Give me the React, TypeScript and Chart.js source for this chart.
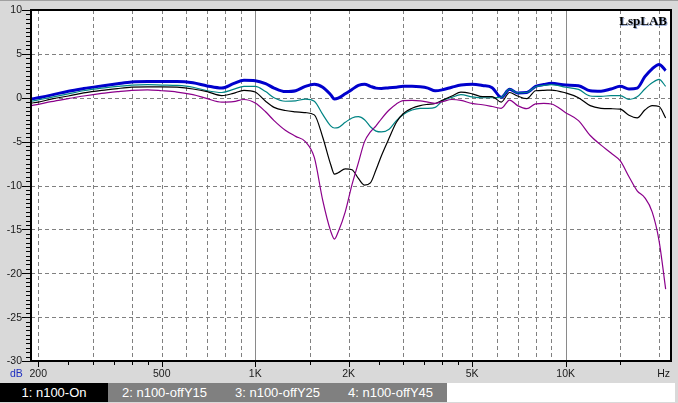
import { useEffect, useRef } from 'react';
import Chart from 'chart.js/auto';

// frequency points (Hz) shared by all four curves
const FREQS = [
  190, 200, 220, 250, 280, 320, 360, 400, 450, 500, 560, 630, 700, 780, 850, 920,
  1000, 1080, 1150, 1250, 1350, 1450, 1550, 1650, 1750, 1800, 1850, 1950, 2050, 2150,
  2250, 2350, 2450, 2550, 2700, 2850, 3000, 3200, 3400, 3600, 3800, 4000, 4300, 4600,
  5000, 5400, 5800, 6200, 6600, 7000, 7500, 8000, 8500, 9000, 10000, 11000, 12000,
  13000, 14000, 15000, 16000, 17000, 18000, 19000, 20000, 21000,
];

const N100_ON = [
  -0.15, 0.0, 0.3, 0.75, 1.05, 1.35, 1.6, 1.8, 1.85, 1.85, 1.85, 1.7, 1.35, 1.1, 1.6, 2.0,
  1.95, 1.6, 1.1, 0.7, 0.8, 1.3, 1.55, 1.2, 0.35, -0.15, -0.05, 0.45, 0.95, 1.4,
  1.55, 1.3, 1.1, 1.05, 1.15, 1.2, 1.3, 1.3, 1.25, 1.1, 0.8, 0.9, 1.2, 1.45,
  1.55, 1.4, 1.15, 0.05, 0.96, 0.55, 0.6, 1.3, 1.5, 1.64, 1.45, 1.38, 0.8,
  0.75, 1.0, 1.3, 1.0, 1.1, 2.4, 3.3, 3.8, 3.1,
];

const N100_OFFY15 = [
  -0.4, -0.25, 0.05, 0.45, 0.8, 1.1, 1.3, 1.45, 1.5, 1.45, 1.4, 1.2, 0.8, 0.6, 0.95, 1.3,
  1.3, 0.7, 0.0, -0.4, -0.35, -0.15, -0.4, -1.9, -3.2, -3.45, -3.4, -2.8, -2.3, -2.15,
  -2.5, -3.3, -3.8, -3.9, -3.6, -2.6, -1.9, -1.4, -1.2, -1.2, -1.1, -0.4, 0.05, 0.35,
  0.1, 0.0, 0.0, 0.05, 1.0, 0.55, 0.6, 1.25, 1.4, 1.5, 1.2, 0.95, 0.2,
  0.15, 0.25, 0.25, -0.2, 0.1, 1.0, 1.7, 2.1, 1.3,
];

const N100_OFFY25 = [
  -0.6, -0.5, -0.15, 0.2, 0.55, 0.85, 1.05, 1.2, 1.25, 1.25, 1.2, 1.0, 0.7, 0.25, 0.5, 0.85,
  0.65, -0.4, -1.1, -1.45, -1.6, -1.7, -1.95, -4.5, -7.6, -8.7, -8.55, -8.1, -8.2, -9.2,
  -9.95, -9.7, -8.2, -6.6, -4.6, -2.8, -1.8, -1.2, -0.9, -0.75, -0.65, -0.3, 0.2, 0.65,
  0.45, 0.12, 0.12, -0.5, 0.6, 0.2, -0.1, 0.8, 0.85, 0.88, 0.55, 0.0, -0.9,
  -1.2, -1.25, -1.3, -2.0, -2.3, -1.4, -0.9, -1.0, -2.3,
];

const N100_OFFY45 = [
  -0.9, -0.75, -0.45, -0.1, 0.2, 0.5, 0.7, 0.85, 0.9, 0.8, 0.65, 0.35, -0.1, -0.5, -0.45, -0.2,
  -0.6, -1.6, -2.6, -3.7, -4.4, -5.0, -6.8, -11.7, -15.2, -16.1, -15.3, -13.0, -9.9, -7.4,
  -5.0, -3.9, -3.2, -2.4, -1.4, -0.7, -0.33, -0.3, -0.35, -0.5, -0.63, -0.45, -0.2, -0.3,
  -0.65, -0.8, -1.0, -1.2, -0.26, -0.9, -1.25, -0.7, -0.65, -0.71, -1.7, -2.6, -4.3,
  -5.4, -6.3, -7.2, -9.0, -10.6, -11.4, -13.0, -16.3, -21.8,
];

const SERIES_NAMES = ['1: n100-On', '2: n100-offY15', '3: n100-offY25', '4: n100-offY45'];

// axis decorations
const Y_LABELS = [10, 5, 0, -5, -10, -15, -20, -25, -30];
const X_LABEL_VALUES = [200, 500, 1000, 2000, 5000, 10000];
const X_LABEL_TEXT = ['200', '500', '1K', '2K', '5K', '10K'];
const X_MINOR_TICKS = [250, 300, 350, 400, 450, 1500, 2500, 3000, 3500, 4000, 4500, 15000];
const GRID_DASHED = [200, 300, 400, 500, 600, 700, 800, 900, 1500, 2000, 3000, 4000, 5000, 6000, 7000, 8000, 9000, 15000, 20000];
const GRID_SOLID = [1000, 10000];

const px = (v: number) => Math.round(v) + 0.5;

const frameplugin = {
  id: 'lspframe',
  beforeDatasetsDraw(chart: any) {
    const { ctx, chartArea: a, scales } = chart;
    const xs = scales.x;
    const ys = scales.y;
    ctx.save();
    ctx.fillStyle = '#ffffff';
    ctx.fillRect(a.left, a.top, a.right - a.left, a.bottom - a.top);
    ctx.lineWidth = 1;
    ctx.strokeStyle = '#808080';
    ctx.setLineDash([4, 3]);
    ctx.beginPath();
    for (const f of GRID_DASHED) {
      const x = px(xs.getPixelForValue(f));
      ctx.moveTo(x, a.top);
      ctx.lineTo(x, a.bottom);
    }
    for (const v of Y_LABELS) {
      if (v === 10 || v === -30) continue;
      const y = px(ys.getPixelForValue(v));
      ctx.moveTo(a.left, y);
      ctx.lineTo(a.right, y);
    }
    ctx.stroke();
    ctx.setLineDash([]);
    ctx.strokeStyle = '#8a8a8a';
    ctx.beginPath();
    for (const f of GRID_SOLID) {
      const x = px(xs.getPixelForValue(f));
      ctx.moveTo(x, a.top);
      ctx.lineTo(x, a.bottom);
    }
    ctx.stroke();

    // watermark
    ctx.font = 'bold 13px "Liberation Serif", serif';
    ctx.textAlign = 'right';
    ctx.textBaseline = 'alphabetic';
    ctx.fillStyle = 'rgba(110,140,200,0.7)';
    ctx.fillText('LspLAB', a.right - 3, 26);
    ctx.fillStyle = '#000000';
    ctx.fillText('LspLAB', a.right - 4, 25);
    ctx.restore();
  },
  afterDraw(chart: any) {
    const { ctx, chartArea: a, scales } = chart;
    const xs = scales.x;
    const ys = scales.y;
    ctx.save();
    ctx.strokeStyle = '#000000';
    ctx.lineWidth = 2;
    ctx.strokeRect(a.left, a.top, a.right - a.left, a.bottom - a.top);

    // y ticks every 0.5 dB
    ctx.lineWidth = 1;
    ctx.beginPath();
    for (let v = -30; v <= 10; v += 0.5) {
      const y = px(ys.getPixelForValue(v));
      const major = v % 5 === 0;
      ctx.moveTo(major ? a.left - 9 : a.left - 5, y);
      ctx.lineTo(a.left - 1, y);
    }
    // x ticks
    for (const f of X_LABEL_VALUES) {
      const x = px(xs.getPixelForValue(f));
      ctx.moveTo(x, a.bottom + 1);
      ctx.lineTo(x, a.bottom + 6);
    }
    for (const f of X_MINOR_TICKS) {
      const x = px(xs.getPixelForValue(f));
      ctx.moveTo(x, a.bottom + 1);
      ctx.lineTo(x, a.bottom + 4);
    }
    ctx.stroke();

    ctx.font = '10.5px "Liberation Sans", Arial, sans-serif';
    ctx.fillStyle = '#1a1a1a';
    ctx.textBaseline = 'middle';
    ctx.textAlign = 'right';
    for (const v of Y_LABELS) {
      ctx.fillText(String(v), a.left - 9, ys.getPixelForValue(v) + 0.5);
    }
    ctx.textAlign = 'center';
    X_LABEL_VALUES.forEach((f, i) => {
      ctx.fillText(X_LABEL_TEXT[i], xs.getPixelForValue(f), a.bottom + 13.5);
    });
    ctx.textAlign = 'right';
    ctx.fillText('Hz', a.right - 1, a.bottom + 13.5);
    ctx.textAlign = 'left';
    ctx.fillStyle = '#1f2fc0';
    ctx.fillText('dB', 10, a.bottom + 13.5);
    ctx.restore();
  },
};

export default function App() {
  const chartRef = useRef<HTMLCanvasElement>(null);
  const chartInstance = useRef<Chart | null>(null);

  useEffect(() => {
    if (!chartRef.current) return;
    if (chartInstance.current) {
      chartInstance.current.destroy();
    }
    const ctx = chartRef.current.getContext('2d');
    if (!ctx) return;

    const toPoints = (vals: number[]) => FREQS.map((f, i) => ({ x: f, y: vals[i] }));

    chartInstance.current = new Chart(ctx, {
      type: 'line',
      data: {
        datasets: [
          { label: SERIES_NAMES[0], data: toPoints(N100_ON), borderColor: '#0000cc', borderWidth: 3, order: 4 },
          { label: SERIES_NAMES[1], data: toPoints(N100_OFFY15), borderColor: '#008484', borderWidth: 1.2, order: 3 },
          { label: SERIES_NAMES[2], data: toPoints(N100_OFFY25), borderColor: '#000000', borderWidth: 1.2, order: 2 },
          { label: SERIES_NAMES[3], data: toPoints(N100_OFFY45), borderColor: '#8b008b', borderWidth: 1.2, order: 1 },
        ],
      },
      options: {
        responsive: false,
        animation: false,
        events: [],
        layout: { padding: { left: 31, top: 10, right: 7, bottom: 22 } },
        elements: {
          point: { radius: 0 },
          line: { cubicInterpolationMode: 'monotone', fill: false },
        },
        plugins: {
          legend: { display: false },
          tooltip: { enabled: false },
        },
        scales: {
          x: { type: 'logarithmic', min: 189.5, max: 21850, display: false },
          y: { type: 'linear', min: -30, max: 10, display: false },
        },
      },
      plugins: [frameplugin],
    });

    return () => {
      if (chartInstance.current) {
        chartInstance.current.destroy();
        chartInstance.current = null;
      }
    };
  }, []);

  const tab = (i: number, left: number, width: number, bg: string) => (
    <div
      key={i}
      style={{
        position: 'absolute', left, top: 0, width, height: 19, background: bg,
        color: '#fff', font: '13px "Liberation Sans", Arial, sans-serif',
        lineHeight: '19px', textAlign: 'center', whiteSpace: 'nowrap',
      }}
    >
      {SERIES_NAMES[i]}
    </div>
  );

  return (
    <div style={{ position: 'fixed', left: 0, top: 0, width: 678, height: 403, background: '#d9d9d9', overflow: 'hidden' }}>
      <div style={{ position: 'absolute', left: 0, top: 0, width: 678, height: 1, background: '#a0a0a0' }} />
      <canvas ref={chartRef} width={678} height={383} style={{ position: 'absolute', left: 0, top: 0, display: 'block' }} />
      <div style={{ position: 'absolute', left: 0, top: 383, width: 675, height: 19, background: '#ffffff' }}>
        {tab(0, 0, 108, '#000000')}
        {tab(1, 108, 113, '#808080')}
        {tab(2, 221, 113, '#808080')}
        {tab(3, 334, 113, '#808080')}
      </div>
    </div>
  );
}
